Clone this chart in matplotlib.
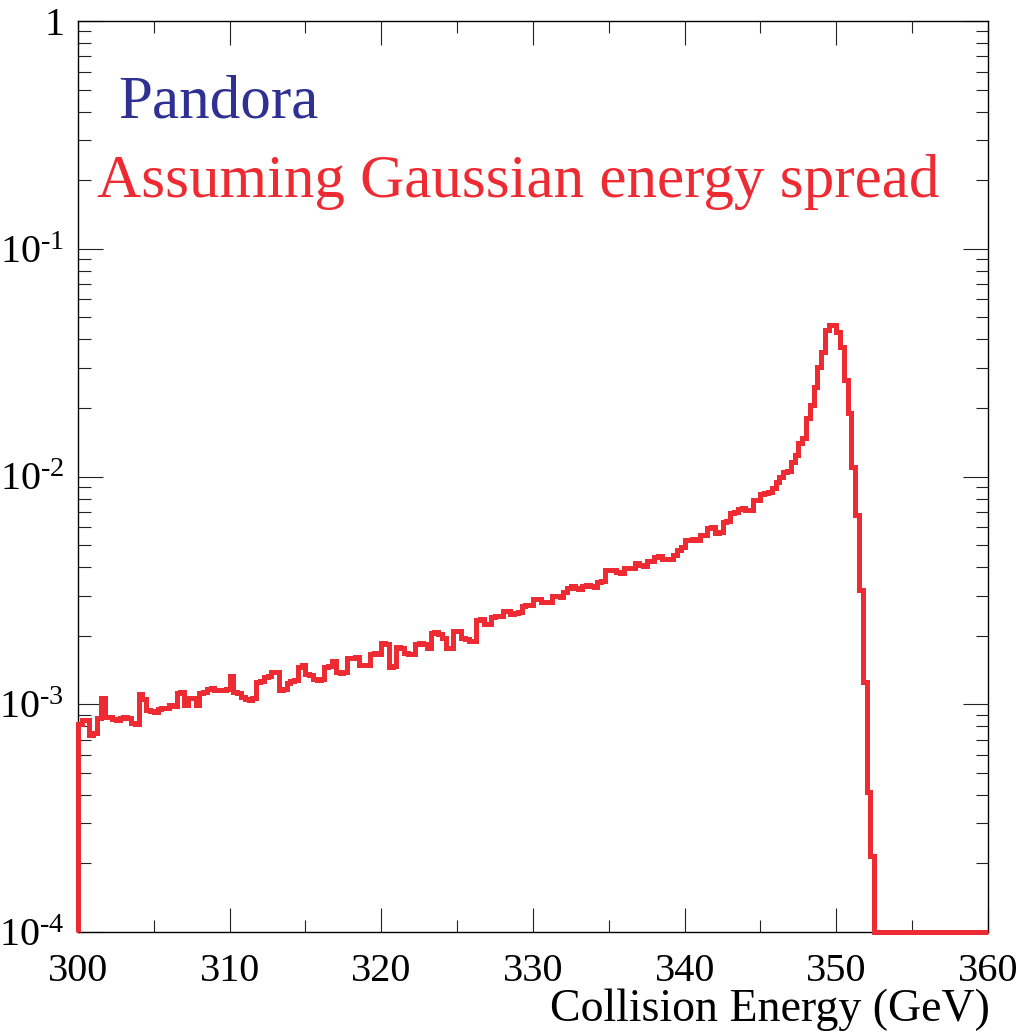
import numpy as np
import matplotlib
matplotlib.use("Agg")
from matplotlib import pyplot as plt
from matplotlib.ticker import LogLocator, MultipleLocator, FixedLocator, FuncFormatter

plt.rcParams['font.family'] = ['Liberation Serif', 'DejaVu Serif']
plt.rcParams['mathtext.fontset'] = 'custom'
plt.rcParams['mathtext.rm'] = 'Liberation Serif'
plt.rcParams['mathtext.it'] = 'Liberation Serif:italic'

# histogram range / binning (0.25 GeV bins)
e_lo = 300.0
e_hi = 360.0
n_bins = 240

# bin contents in units of 1e-3, four bins per GeV, starting at 300 GeV
lumi_e3 = [
    0.82, 0.85, 0.85, 0.73,   # 300
    0.75, 0.87, 1.06, 0.88,   # 301
    0.88, 0.86, 0.85, 0.87,   # 302
    0.88, 0.87, 0.83, 0.82,   # 303
    1.11, 1.05, 0.94, 0.93,   # 304
    0.92, 0.95, 0.96, 0.96,   # 305
    0.99, 0.98, 1.12, 1.13,   # 306
    0.99, 1.07, 1.06, 0.99,   # 307
    1.12, 1.13, 1.17, 1.18,   # 308
    1.16, 1.15, 1.16, 1.17,   # 309
    1.33, 1.13, 1.12, 1.08,   # 310
    1.05, 1.04, 1.06, 1.25,   # 311
    1.26, 1.32, 1.33, 1.38,   # 312
    1.39, 1.16, 1.17, 1.24,   # 313
    1.26, 1.28, 1.46, 1.48,   # 314
    1.36, 1.35, 1.29, 1.28,   # 315
    1.29, 1.46, 1.47, 1.55,   # 316
    1.38, 1.37, 1.39, 1.60,   # 317
    1.59, 1.62, 1.49, 1.48,   # 318
    1.48, 1.67, 1.68, 1.66,   # 319
    1.85, 1.83, 1.46, 1.47,   # 320
    1.78, 1.77, 1.68, 1.67,   # 321
    1.67, 1.84, 1.86, 1.83,   # 322
    1.76, 2.05, 2.07, 2.03,   # 323
    1.95, 1.76, 1.77, 2.09,   # 324
    2.10, 1.96, 1.94, 1.90,   # 325
    1.89, 2.35, 2.36, 2.25,   # 326
    2.24, 2.41, 2.43, 2.45,   # 327
    2.57, 2.58, 2.50, 2.52,   # 328
    2.53, 2.71, 2.72, 2.74,   # 329
    2.89, 2.90, 2.80, 2.81,   # 330
    2.80, 2.98, 3.00, 2.95,   # 331
    3.10, 3.25, 3.30, 3.25,   # 332
    3.20, 3.30, 3.35, 3.30,   # 333
    3.27, 3.45, 3.46, 3.90,   # 334
    3.88, 3.90, 3.79, 3.78,   # 335
    3.96, 3.98, 3.97, 4.15,   # 336
    4.08, 4.06, 4.24, 4.27,   # 337
    4.45, 4.46, 4.36, 4.34,   # 338
    4.36, 4.50, 4.78, 4.90,   # 339
    5.25, 5.24, 5.30, 5.27,   # 340
    5.53, 5.56, 5.95, 5.98,   # 341
    5.65, 5.68, 6.32, 6.36,   # 342
    6.90, 6.95, 7.22, 7.25,   # 343
    7.13, 7.10, 7.85, 7.90,   # 344
    8.40, 8.50, 8.52, 8.90,   # 345
    9.45, 10.0, 10.5, 10.6,   # 346
    11.6, 12.4, 14.1, 14.8,   # 347
    18.1, 20.6, 24.7, 30.2,   # 348
    35.1, 44.1, 46.3, 46.2,   # 349
    43.2, 37.0, 26.6, 19.0,   # 350
    11.0, 6.8, 3.18, 1.25,    # 351
    0.41, 0.215, 0.0, 0.0,    # 352
]
lumi_e3 = lumi_e3 + [0.0] * (n_bins - len(lumi_e3))

y_min = 1e-4
y_max = 1.0
x_ticks = [300, 310, 320, 330, 340, 350, 360]

text_pandora = "Pandora"
text_spread = "Assuming Gaussian energy spread"
x_title = "Collision Energy (GeV)"

red = "#ee2a33"
blue = "#2e3192"

W, H = 1022, 1034
fig = plt.figure(figsize=(W / 100, H / 100), dpi=100)
ax = fig.add_axes([78 / W, 1 - 932 / H, (988 - 78) / W, (932 - 21) / H])

edges = np.linspace(e_lo, e_hi, n_bins + 1)
vals = np.array(lumi_e3) * 1e-3
# empty bins sit on the lower edge of the log axis, like ROOT draws them
vals_draw = np.maximum(vals, y_min)
ax.stairs(vals_draw, edges, baseline=y_min, color=red, lw=3.6, clip_on=False, zorder=3)

ax.set_xlim(e_lo, e_hi)
ax.set_yscale('log')
ax.set_ylim(y_min, y_max)

ax.xaxis.set_major_locator(FixedLocator(x_ticks))
ax.xaxis.set_minor_locator(MultipleLocator(5))
ax.yaxis.set_major_locator(LogLocator(base=10, numticks=10))
ax.yaxis.set_minor_locator(LogLocator(base=10, subs=np.arange(2, 10), numticks=20))


def ylab(v, pos):
    if abs(v - 1.0) < 1e-9:
        return "1"
    return r"$10^{\text{-}%d}$" % int(round(-np.log10(v)))


ax.yaxis.set_major_formatter(FuncFormatter(ylab))
ax.yaxis.set_minor_formatter(FuncFormatter(lambda v, p: ""))

ax.tick_params(which='both', direction='in', top=True, right=True, width=0.8, color='#222222')
ax.tick_params(axis='x', which='major', length=17, pad=15, labelsize=29)
ax.tick_params(axis='x', which='minor', length=8.5)
ax.tick_params(axis='y', which='major', length=18, pad=10, labelsize=29)
ax.tick_params(axis='y', which='minor', length=9)
for s in ax.spines.values():
    s.set_linewidth(1.0)

fig.text(118 / W, 1 - 118 / H, text_pandora, color=blue, fontsize=44, ha='left', va='baseline')
fig.text(97 / W, 1 - 197 / H, text_spread, color=red, fontsize=44, ha='left', va='baseline')
fig.text(990 / W, 1 - 1021 / H, x_title, color='black', fontsize=33, ha='right', va='baseline')

fig.savefig("out.png", dpi=100)
